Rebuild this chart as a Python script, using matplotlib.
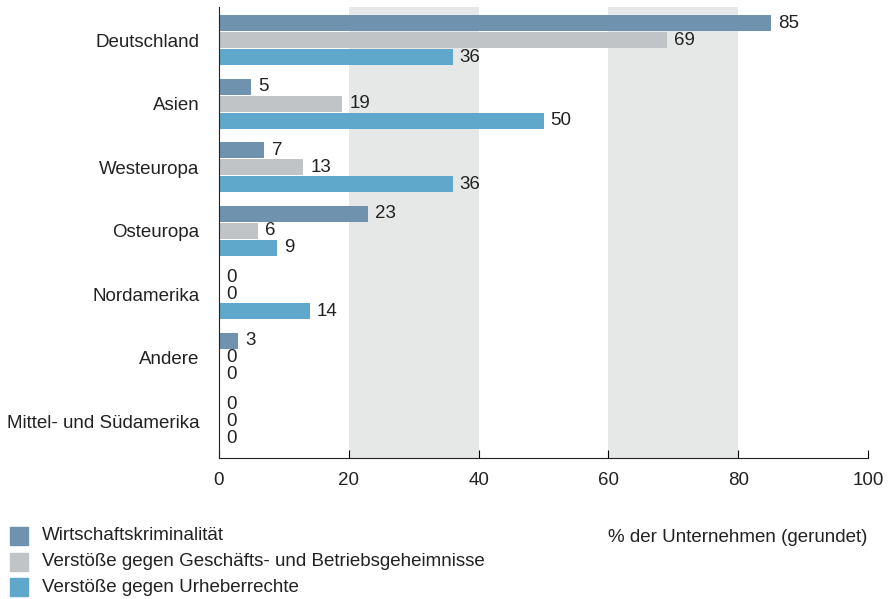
import matplotlib
matplotlib.use("Agg")
import matplotlib.pyplot as plt
import numpy as np
from matplotlib.patches import Rectangle

plt.rcParams['font.family'] = ['Liberation Sans', 'DejaVu Sans']

regions = ["Deutschland", "Asien", "Westeuropa", "Osteuropa",
           "Nordamerika", "Andere", "Mittel- und Südamerika"]
wirtschaft = [85, 5, 7, 23, 0, 3, 0]
geheimnisse = [69, 19, 13, 6, 0, 0, 0]
urheber = [36, 50, 36, 9, 14, 0, 0]

series_names = ["Wirtschaftskriminalität",
                "Verstöße gegen Geschäfts- und Betriebsgeheimnisse",
                "Verstöße gegen Urheberrechte"]
colors = ["#6f93af", "#c1c4c7", "#5fa7cb"]
fs = 13.5

fig = plt.figure(figsize=(8.88, 5.99), dpi=100)
ax = fig.add_axes([0.2466, 0.2354, 0.7309, 0.7526])

# shaded bands behind the bars
for lo, hi in [(20, 40), (60, 80)]:
    ax.axvspan(lo, hi, color="#e6e7e7", zorder=0, lw=0)

y = np.arange(len(regions))
h = 0.252
step = 0.268
for k, (vals, c) in enumerate(zip([wirtschaft, geheimnisse, urheber], colors)):
    pos = y + (k - 1) * step
    ax.barh(pos, vals, height=h, color=c, zorder=2)
    for p, v in zip(pos, vals):
        ax.text(v + 1.1, p, str(v), va="center", ha="left",
                fontsize=fs, color="#222222", zorder=3)

ax.set_xlim(0, 100)
ax.set_ylim(6.58, -0.52)
ax.set_yticks(y)
ax.set_yticklabels(regions, fontsize=fs, color="#222222")
ax.tick_params(axis="y", length=0, pad=14)
ax.set_xticks([0, 20, 40, 60, 80, 100])
ax.tick_params(axis="x", direction="in", length=6, width=0.8,
               labelsize=fs, labelcolor="#222222", pad=10)
for s in ["top", "right"]:
    ax.spines[s].set_visible(False)
ax.spines["left"].set_color("#222222")
ax.spines["bottom"].set_color("#222222")

fig.text(0.977, 1 - 537 / 599, "% der Unternehmen (gerundet)",
         ha="right", va="center", fontsize=fs, color="#222222")

# legend drawn as squares with labels
for i, (name, c) in enumerate(zip(series_names, colors)):
    yc = 536 + i * 25.5
    fig.patches.append(Rectangle((10 / 888, 1 - (yc + 9) / 599), 18 / 888, 18 / 599,
                                 transform=fig.transFigure, color=c))
    fig.text(42 / 888, 1 - yc / 599, name, ha="left", va="center",
             fontsize=fs, color="#222222")

fig.savefig("out.png", dpi=100)
